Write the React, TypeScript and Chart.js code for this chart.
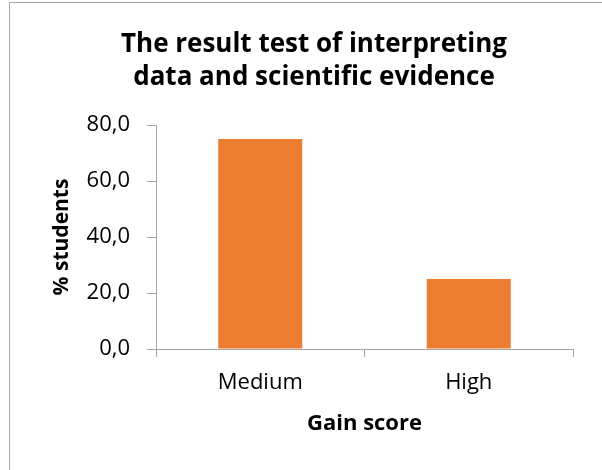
import React, { useEffect, useRef } from "react";
import { Chart, registerables } from "chart.js";

Chart.register(...registerables);

const titleLines = ["The result test of interpreting", "data and scientific evidence"];
const categories = ["Medium", "High"];
const values = [75.0, 25.0];
const yTitle = "% students";
const xTitle = "Gain score";
const yMin = 0;
const yMax = 80;
const yStep = 20;

const FONT = "'Open Sans', 'DejaVu Sans', sans-serif";
const AXIS_GRAY = "#a6a6a6";

const titlePlugin = {
  id: "twoLineTitle",
  afterDraw(chart: any) {
    const ctx = chart.ctx;
    ctx.save();
    ctx.font = `bold 26px ${FONT}`;
    ctx.fillStyle = "#000";
    ctx.textAlign = "center";
    ctx.textBaseline = "alphabetic";
    ctx.fillText(titleLines[0], 314, 52);
    ctx.fillText(titleLines[1], 314, 85);
    ctx.restore();
  },
};

export default function App() {
  const ref = useRef<HTMLCanvasElement>(null);
  useEffect(() => {
    document.body.style.margin = "0";
    document.body.style.overflow = "hidden";
    const chart = new Chart(ref.current!, {
      type: "bar",
      data: {
        labels: categories,
        datasets: [
          {
            data: values,
            backgroundColor: "#ED7D31",
            borderWidth: 0,
            categoryPercentage: 1,
            barPercentage: 0.403,
          },
        ],
      },
      options: {
        responsive: false,
        animation: false,
        devicePixelRatio: 1,
        layout: { padding: { left: 20, right: 29, top: 125, bottom: 0 } },
        plugins: {
          legend: { display: false },
          title: { display: false },
          tooltip: { enabled: false },
        },
        scales: {
          x: {
            grid: {
              display: true,
              drawOnChartArea: false,
              drawTicks: true,
              tickLength: 8,
              color: AXIS_GRAY,
              offset: true,
            },
            border: { display: true, color: AXIS_GRAY, width: 1 },
            ticks: {
              color: "#000",
              font: { family: FONT, size: 22 },
              padding: 13,
            },
            title: {
              display: true,
              text: xTitle,
              color: "#000",
              font: { family: FONT, size: 22, weight: "bold" },
              padding: { top: 0, bottom: 33 },
            },
            afterFit(scale: any) {
              scale.height = 121;
            },
          },
          y: {
            min: yMin,
            max: yMax,
            grid: {
              display: true,
              drawOnChartArea: false,
              drawTicks: true,
              tickLength: 9,
              color: AXIS_GRAY,
            },
            border: { display: true, color: AXIS_GRAY, width: 1 },
            ticks: {
              stepSize: yStep,
              color: "#000",
              font: { family: FONT, size: 22 },
              padding: 17,
              callback: (v: any) => Number(v).toFixed(1).replace(".", ","),
            },
            title: {
              display: true,
              text: yTitle,
              color: "#000",
              font: { family: FONT, size: 21, weight: "bold" },
              padding: { top: 29, bottom: 0 },
            },
            afterFit(scale: any) {
              scale.width = 136;
            },
          },
        },
      },
      plugins: [titlePlugin],
    });
    return () => chart.destroy();
  }, []);

  return (
    <div
      style={{
        position: "fixed",
        left: 0,
        top: 0,
        width: 602,
        height: 470,
        overflow: "hidden",
        background: "#fff",
      }}
    >
      <canvas
        ref={ref}
        width={602}
        height={470}
        style={{ position: "absolute", left: 0, top: 0, width: 602, height: 470 }}
      />
      <div
        style={{
          position: "absolute",
          left: 9,
          top: 2,
          width: 800,
          height: 800,
          borderLeft: "1px solid #a6a6a6",
          borderTop: "1px solid #a6a6a6",
          pointerEvents: "none",
        }}
      />
    </div>
  );
}
